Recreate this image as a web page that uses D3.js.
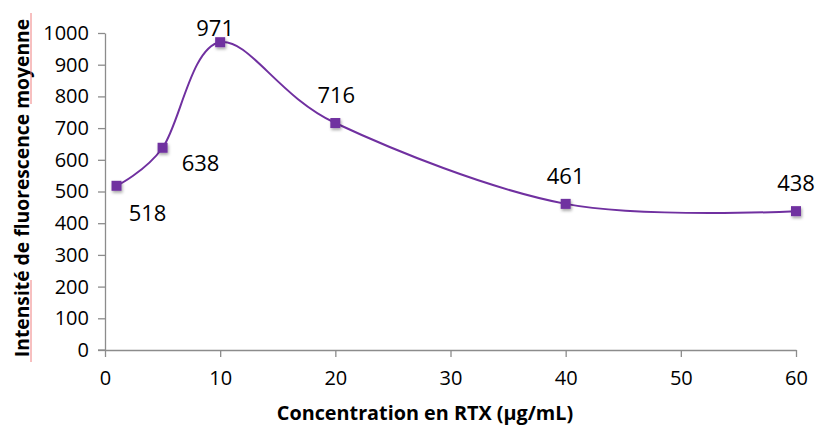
<!DOCTYPE html>
<html><head><meta charset="utf-8">
<script src="https://cdn.jsdelivr.net/npm/d3@7/dist/d3.min.js"></script>
<style>body{margin:0;background:#fff;} svg{display:block;}</style>
</head><body>
<svg id="c" width="818" height="428"></svg>
<script>
const concentrations = [1, 5, 10, 20, 40, 60];
const intensities = [518, 638, 971, 716, 461, 438];
const xTicks = [0, 10, 20, 30, 40, 50, 60];
const yTicks = [0, 100, 200, 300, 400, 500, 600, 700, 800, 900, 1000];
const labelOffsets = [[31, 26], [38, 14], [-5, -15], [1, -29], [0, -29], [0, -29]];

const svg = d3.select("#c");
const font = "'Open Sans', sans-serif";
const x = d3.scaleLinear().domain([0, 60]).range([105, 796]);
const y = d3.scaleLinear().domain([0, 1000]).range([350, 33]);
const axisColor = "#8c8c8c";

const defs = svg.append("defs");
const f = defs.append("filter").attr("id", "sh").attr("x", "-50%").attr("y", "-50%").attr("width", "200%").attr("height", "200%");
f.append("feDropShadow").attr("dx", 1).attr("dy", 2).attr("stdDeviation", 1.5).attr("flood-color", "#000").attr("flood-opacity", 0.35);

// Y axis
const gy = svg.append("g").attr("transform", `translate(${x(0)},0)`)
  .call(d3.axisLeft(y).tickValues(yTicks).tickFormat(d3.format("d")).tickSize(7).tickSizeOuter(0).tickPadding(9));
gy.select(".domain").attr("stroke", axisColor).attr("stroke-width", 1.3);
gy.selectAll(".tick line").attr("stroke", axisColor).attr("stroke-width", 1.3);
gy.selectAll(".tick text").attr("font-family", font).attr("font-size", 20).attr("fill", "#000");

// X axis
const gx = svg.append("g").attr("transform", `translate(0,${y(0)})`)
  .call(d3.axisBottom(x).tickValues(xTicks).tickFormat(d3.format("d")).tickSize(7).tickSizeOuter(0).tickPadding(14));
gx.select(".domain").attr("stroke", axisColor).attr("stroke-width", 1.3);
gx.selectAll(".tick line").attr("stroke", axisColor).attr("stroke-width", 1.3);
gx.selectAll(".tick text").attr("font-family", font).attr("font-size", 20).attr("fill", "#000");
svg.append("line").attr("x1", x(0) - 7).attr("x2", x(0)).attr("y1", y(0)).attr("y2", y(0)).attr("stroke", axisColor).attr("stroke-width", 1.3);

// Axis titles
svg.append("text").attr("x", 425).attr("y", 420).attr("text-anchor", "middle")
  .attr("font-family", font).attr("font-weight", "bold").attr("font-size", 19.8)
  .text("Concentration en RTX (µg/mL)");
svg.append("text").attr("transform", "translate(29,188) rotate(-90)").attr("text-anchor", "middle")
  .attr("font-family", font).attr("font-weight", "bold").attr("font-size", 19.3)
  .text("Intensité de fluorescence moyenne");
// spellcheck marks
svg.append("line").attr("x1", 31).attr("x2", 31).attr("y1", 280).attr("y2", 362).attr("stroke", "#f08080").attr("stroke-width", 1);
svg.append("line").attr("x1", 31).attr("x2", 31).attr("y1", 13).attr("y2", 104).attr("stroke", "#f08080").attr("stroke-width", 1);

const data = concentrations.map((c, i) => ({ c, v: intensities[i], off: labelOffsets[i] }));

const line = d3.line().x(d => x(d.c)).y(d => y(d.v)).curve(d3.curveCardinal.tension(0));
svg.append("path").datum(data).attr("d", line).attr("fill", "none")
  .attr("stroke", "#7030A0").attr("stroke-width", 2);

svg.append("g").selectAll("rect").data(data).join("rect")
  .attr("x", d => x(d.c) - 5).attr("y", d => y(d.v) - 5).attr("width", 10).attr("height", 10)
  .attr("fill", "#7030A0").attr("filter", "url(#sh)");

svg.append("g").selectAll("text").data(data).join("text")
  .attr("x", d => x(d.c) + d.off[0]).attr("y", d => y(d.v) + d.off[1])
  .attr("text-anchor", "middle").attr("dominant-baseline", "central")
  .attr("font-family", font).attr("font-size", 22).attr("fill", "#000")
  .text(d => d.v);
</script>
</body></html>
